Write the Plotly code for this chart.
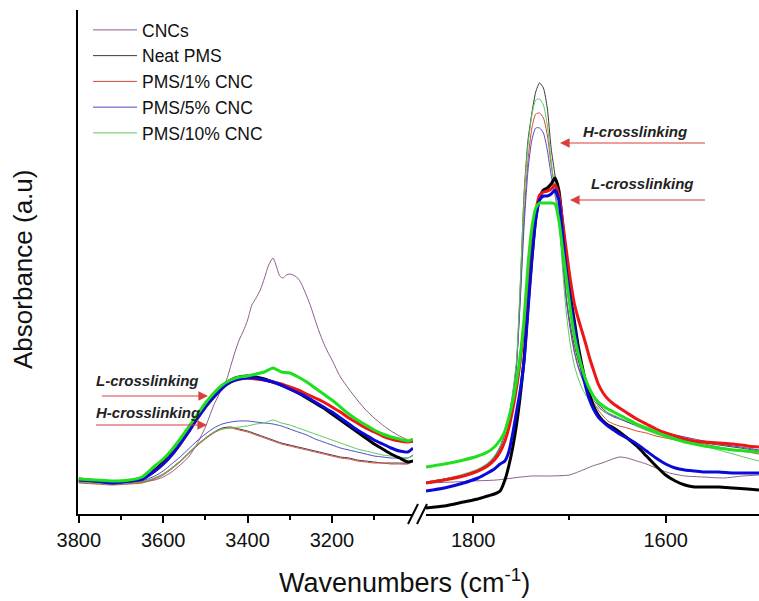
import plotly.graph_objects as go

# ---------------- data (absorbance, arbitrary units) ----------------
# Left panel: O-H region
wn_left = [3800, 3760, 3720, 3680, 3650, 3620, 3600, 3580, 3560, 3540, 3520, 3500, 3480, 3460,
           3440, 3420, 3400, 3380, 3360, 3340, 3320, 3300, 3280, 3260, 3240, 3220, 3200, 3180,
           3160, 3140, 3120, 3100, 3080, 3060, 3040, 3020, 3008]

neat_h_left = [32, 31, 30, 31, 32, 36, 40, 46, 53, 61, 69, 76, 82, 86, 87, 85, 83, 80, 77, 74, 71, 69,
               67, 65, 63, 61, 59, 57, 56, 54, 53, 52, 51, 51, 51, 51, 54]
neat_l_left = [35, 33, 32, 33, 35, 44, 52, 61, 72, 84, 97, 109, 119, 128, 134, 137, 138, 137, 135, 132,
               129, 125, 121, 116, 111, 106, 100, 94, 88, 82, 76, 70, 65, 60, 56, 52, 53]
c1_h_left = [31, 30, 29, 30, 31, 35, 39, 45, 52, 60, 68, 75, 81, 85, 86, 84, 82, 79, 76, 73, 70, 68,
             66, 64, 62, 60, 58, 56, 55, 53, 52, 51, 51, 50, 50, 50, 53]
c1_l_left = [34, 33, 32, 33, 35, 43, 50, 59, 70, 82, 95, 107, 117, 126, 132, 135, 136, 135, 134, 132,
             130, 127, 124, 120, 116, 112, 107, 102, 96, 91, 86, 82, 78, 75, 73, 72, 73]
c5_h_left = [32, 31, 30, 31, 33, 38, 43, 50, 57, 65, 73, 80, 86, 90, 92, 93, 93, 92, 91, 90, 88, 85,
             82, 79, 75, 72, 69, 66, 64, 62, 60, 58, 57, 56, 56, 56, 59]
c5_l_left = [34, 33, 31, 33, 35, 43, 50, 59, 70, 82, 95, 107, 117, 126, 132, 135, 136, 136, 134, 132,
             129, 125, 121, 117, 112, 107, 102, 96, 90, 84, 79, 74, 70, 66, 63, 62, 66]
c10_h_left = [32, 31, 30, 31, 32, 36, 40, 46, 53, 61, 69, 76, 82, 85, 86, 87, 88, 90, 91, 94, 91, 89,
              86, 83, 80, 77, 74, 71, 68, 65, 63, 61, 59, 58, 57, 56, 58]
c10_l_left = [35, 34, 33, 34, 37, 48, 55, 64, 75, 87, 99, 111, 121, 129, 134, 137, 138, 140, 142, 146,
              142, 141, 137, 132, 126, 120, 114, 107, 100, 94, 89, 84, 80, 77, 75, 73, 75]

wn_cnc_left = [3800, 3760, 3720, 3680, 3650, 3620, 3600, 3580, 3560, 3540, 3520, 3500, 3480, 3460,
               3450, 3440, 3430, 3420, 3410, 3400, 3390, 3380, 3370, 3360, 3350, 3340, 3332, 3324,
               3316, 3308, 3300, 3292, 3284, 3276, 3268, 3260, 3250, 3240, 3230, 3220, 3210, 3200,
               3180, 3160, 3140, 3120, 3100, 3080, 3060, 3040, 3020, 3008]
cnc_left = [33, 32, 31, 31, 32, 34, 37, 42, 49, 57, 70, 87, 109, 126, 134, 148, 162, 174, 183, 194,
            209, 216, 224, 236, 249, 256, 248, 238, 236, 239, 240, 239, 237, 233, 226, 218, 207, 194,
            182, 171, 162, 154, 137, 125, 114, 104, 96, 89, 83, 78, 74, 71]

# Right panel: carbonyl region
wn_right = [1849, 1830, 1810, 1795, 1785, 1778, 1772, 1767, 1763, 1759, 1755, 1751, 1747, 1743,
            1739, 1735, 1731, 1727, 1723, 1719, 1715, 1711, 1707, 1703, 1699, 1695, 1691, 1687,
            1683, 1679, 1675, 1670, 1665, 1660, 1654, 1648, 1640, 1630, 1620, 1610, 1600, 1590,
            1580, 1570, 1560, 1545, 1530, 1515, 1503]

neat_h_right = [32, 35, 39, 44, 50, 57, 67, 81, 96, 119, 149, 229, 322, 374, 401, 422, 431, 426, 406,
                366, 339, 312, 259, 214, 189, 169, 154, 142, 132, 124, 117, 110, 105, 101, 98, 96,
                92, 88, 84, 81, 78, 76, 74, 72, 71, 69, 67, 65, 63]
neat_l_right = [6, 8, 12, 15, 18, 20, 23, 34, 48, 66, 89, 119, 156, 209, 256, 296, 316, 324, 326, 330,
                336, 324, 289, 249, 219, 194, 169, 149, 132, 119, 108, 99, 93, 89, 86, 82, 76, 68,
                58, 48, 39, 33, 29, 27, 27, 27, 26, 25, 24]
c1_h_right = [31, 34, 38, 43, 49, 56, 66, 80, 95, 117, 149, 219, 299, 354, 386, 400, 401, 396, 379,
              349, 324, 299, 254, 214, 186, 164, 149, 137, 127, 119, 112, 104, 98, 93, 90, 88, 86,
              83, 81, 78, 76, 74, 72, 71, 70, 67, 64, 62, 60]
c1_l_right = [31, 34, 38, 43, 48, 54, 62, 73, 86, 104, 126, 154, 189, 229, 269, 302, 319, 322, 323,
              325, 329, 319, 292, 262, 234, 211, 196, 183, 170, 156, 144, 130, 121, 115, 110, 106,
              101, 95, 90, 85, 81, 78, 75, 73, 72, 71, 70, 68, 67]
c5_h_right = [32, 35, 39, 44, 50, 57, 67, 81, 96, 118, 149, 214, 289, 344, 374, 386, 386, 381, 364,
              339, 319, 296, 252, 212, 184, 162, 147, 136, 127, 120, 114, 108, 103, 100, 97, 95, 92,
              89, 86, 83, 81, 79, 77, 75, 73, 70, 68, 66, 64]
c5_l_right = [23, 26, 31, 36, 41, 45, 50, 53, 62, 80, 102, 124, 154, 204, 254, 294, 314, 318, 318,
              320, 324, 314, 279, 242, 214, 189, 164, 144, 127, 114, 105, 97, 92, 88, 84, 80, 76,
              70, 63, 56, 50, 46, 44, 43, 42, 42, 41, 41, 41]
c10_h_right = [32, 35, 40, 45, 51, 58, 68, 82, 98, 121, 154, 232, 319, 369, 399, 414, 415, 409, 389,
               354, 324, 296, 244, 199, 169, 149, 136, 126, 119, 114, 110, 106, 103, 101, 99, 96,
               93, 88, 84, 80, 77, 74, 72, 70, 68, 64, 60, 56, 53]
c10_l_right = [47, 50, 54, 58, 62, 67, 74, 83, 96, 112, 133, 159, 196, 249, 286, 306, 311, 311, 311,
               311, 310, 294, 264, 234, 204, 179, 161, 146, 134, 125, 118, 112, 108, 105, 102, 99,
               95, 90, 86, 82, 78, 75, 72, 70, 68, 66, 64, 63, 62]

wn_cnc_right = [1849, 1820, 1800, 1776, 1750, 1739, 1720, 1700, 1686, 1676, 1666, 1655, 1648, 1640,
                1630, 1620, 1610, 1596, 1580, 1561, 1540, 1520, 1503]
cnc_right = [31, 32, 33, 34, 37, 38, 38, 39, 44, 48, 51, 55, 57, 56, 53, 50, 46, 41, 38, 37, 36, 38, 39]

legend_names = ["CNCs", "Neat PMS", "PMS/1% CNC", "PMS/5% CNC", "PMS/10% CNC"]
x_ticks_left = [3800, 3600, 3400, 3200]
x_ticks_right = [1800, 1600]

# ---------------- styles ----------------
FONT = "Liberation Sans, Arial, Helvetica, sans-serif"
thin_colors = {"cnc": "#8a5f8a", "neat": "#3a3a3a", "c1": "#d4473c", "c5": "#4c4cc4", "c10": "#5cc85c"}
thick_colors = {"neat": "#000000", "c1": "#ee1515", "c5": "#0a0ad8", "c10": "#1ee01e"}

fig = go.Figure()

def add(x, y, color, width, axis, name=None, show=False, group=None):
    fig.add_trace(go.Scatter(
        x=x, y=y, mode="lines", name=name, showlegend=show, legendgroup=group,
        line=dict(color=color, width=width, shape="spline", smoothing=0.6),
        xaxis=axis, yaxis="y", hoverinfo="skip"))

# thin (H-crosslinking) curves + CNCs
thin_sets = [
    ("cnc", wn_cnc_left, cnc_left, wn_cnc_right, cnc_right, legend_names[0]),
    ("neat", wn_left, neat_h_left, wn_right, neat_h_right, legend_names[1]),
    ("c1", wn_left, c1_h_left, wn_right, c1_h_right, legend_names[2]),
    ("c5", wn_left, c5_h_left, wn_right, c5_h_right, legend_names[3]),
    ("c10", wn_left, c10_h_left, wn_right, c10_h_right, legend_names[4]),
]
for key, xl, yl, xr, yr, nm in thin_sets:
    add(xl, yl, thin_colors[key], 1, "x", name=nm, show=True, group=key)
    add(xr, yr, thin_colors[key], 1, "x2", group=key)

# thick (L-crosslinking) curves
thick_sets = [
    ("neat", neat_l_left, neat_l_right),
    ("c1", c1_l_left, c1_l_right),
    ("c5", c5_l_left, c5_l_right),
    ("c10", c10_l_left, c10_l_right),
]
for key, yl, yr in thick_sets:
    add(wn_left, yl, thick_colors[key], 3, "x", group=key)
    add(wn_right, yr, thick_colors[key], 3, "x2", group=key)

axis_common = dict(
    showline=True, linewidth=2, linecolor="black", showgrid=False, zeroline=False,
    ticks="outside", ticklen=7, tickwidth=2, tickcolor="black",
    tickfont=dict(family=FONT, size=20, color="#111"),
    minor=dict(ticks="outside", ticklen=4, tickwidth=2, tickcolor="black", dtick=100),
)

W, H = 759, 601
L, R, T, B = 78, 0, 10, 87
pw, ph = W - L - R, H - T - B

def px(xp):
    return (xp - L) / pw

def py(yp):
    return (H - B - yp) / ph

fig.update_layout(
    width=W, height=H,
    margin=dict(l=L, r=R, t=T, b=B),
    plot_bgcolor="white", paper_bgcolor="white",
    xaxis=dict(domain=[0, px(413)], range=[3802, 3008], tickvals=x_ticks_left, anchor="y", **axis_common),
    xaxis2=dict(domain=[px(426), 1], range=[1849, 1503], tickvals=x_ticks_right, anchor="y", **axis_common),
    yaxis=dict(range=[0, 504], showline=True, linewidth=2, linecolor="black", showgrid=False,
               zeroline=False, ticks="", showticklabels=False, anchor="x"),
    legend=dict(x=px(88), y=py(12), xanchor="left", yanchor="top", bgcolor="rgba(0,0,0,0)",
                font=dict(family=FONT, size=17.5, color="#111"), itemwidth=44, tracegroupgap=0),
    showlegend=True,
)

# axis titles
fig.add_annotation(text="Wavenumbers (cm<sup>-1</sup>)", x=px(404), y=py(581), xref="paper", yref="paper",
                   showarrow=False, font=dict(family=FONT, size=27, color="#111"), xanchor="center", yanchor="middle")
fig.add_annotation(text="Absorbance (a.u)", x=px(23), y=py(270), xref="paper", yref="paper", textangle=-90,
                   showarrow=False, font=dict(family=FONT, size=26, color="#111"), xanchor="center", yanchor="middle")

# crosslinking labels and arrows
lab_font = dict(family=FONT, size=15, color="#222")
labels = [("L-crosslinking", 147, 380), ("H-crosslinking", 148, 412),
          ("H-crosslinking", 635, 131), ("L-crosslinking", 642, 183)]
for t, xx, yy in labels:
    fig.add_annotation(text="<b><i>" + t + "</i></b>", x=px(xx), y=py(yy), xref="paper", yref="paper",
                       showarrow=False, font=lab_font, xanchor="center", yanchor="middle")

arrows = [(208, 396, -108), (207, 425, -113), (560, 143, 147), (570, 200, 137)]
for tx, ty, dx in arrows:
    fig.add_annotation(text="&nbsp;", font=dict(size=2, color="rgba(0,0,0,0)"),
                       x=px(tx), y=py(ty), xref="paper", yref="paper", showarrow=True,
                       ax=dx, ay=0, arrowhead=2, arrowsize=1.6, arrowwidth=1.2, arrowcolor="#d8403a")

# axis break marks
for x0 in (408, 417):
    fig.add_shape(type="line", xref="paper", yref="paper", x0=px(x0), y0=py(524), x1=px(x0 + 10), y1=py(504),
                  line=dict(color="black", width=2))

fig.write_html("out.html")
